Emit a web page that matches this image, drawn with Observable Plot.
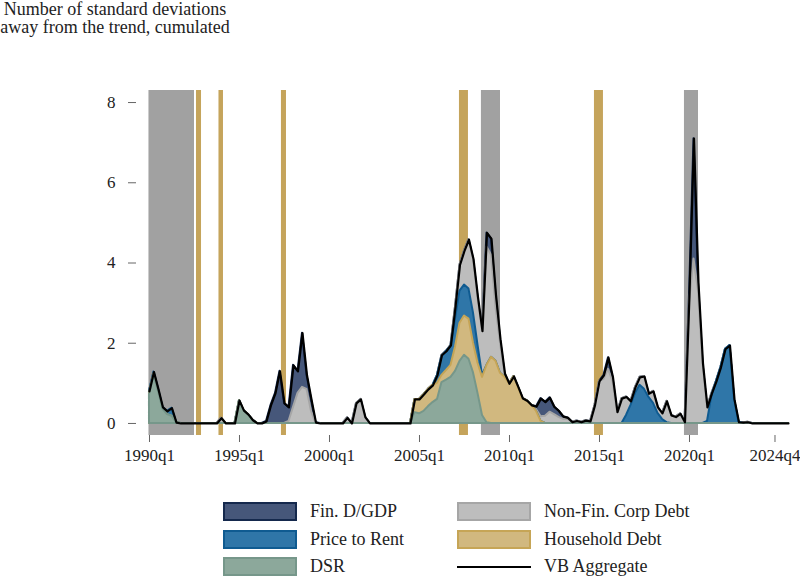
<!DOCTYPE html>
<html>
<head>
<meta charset="utf-8">
<script src="https://cdn.jsdelivr.net/npm/d3@7"></script>
<script src="https://cdn.jsdelivr.net/npm/@observablehq/plot@0.6"></script>
<style>
  html, body { margin: 0; padding: 0; background: #fff; }
  body { width: 800px; height: 586px; position: relative; overflow: hidden; font-family: "Liberation Serif", "Times New Roman", Times, "DejaVu Serif", "Noto Serif", FreeSerif, serif; color: #222; }
  #title { position: absolute; left: 0; top: 0; width: 230px; text-align: center; font-size: 18px; line-height: 18px; }
  #chart { position: absolute; left: 0; top: 40px; }
  .sw { position: absolute; box-sizing: border-box; width: 74px; height: 19px; border: 2px solid; }
  .ln { position: absolute; height: 0; width: 74px; border-top: 2px solid #000; }
  .lab { position: absolute; font-size: 18px; line-height: 19px; white-space: nowrap; }
</style>
</head>
<body>
<div id="title">Number of standard deviations<br>away from the trend, cumulated</div>
<div id="chart"></div>
<div id="legend"></div>
<script>
// Quarterly series, 1990q1 .. 2025q3 (one row = one year, four quarters)
const startQuarter = "1990q1";

const dsr = [
  0.72,1.20,0.80,0.35, 0.22,0.18,0.02,0,  0,0,0,0,  0,0,0,0,          // 1990-1993
  0,0,0,0,  0.57,0.32,0.22,0.08,  0,0,0,0,  0,0,0,0,                  // 1994-1997
  0,0,0,0,  0,0,0,0,  0,0,0,0,  0,0,0,0,                              // 1998-2001
  0,0,0,0,  0,0,0,0,  0,0,0,0.27,  0.24,0.30,0.42,0.52,               // 2002-2005
  0.60,1.02,1.08,1.15,  1.30,1.55,1.70,1.60,  1.26,0.75,0.20,0.02,  0,0,0,0, // 2006-2009
  0,0,0,0,  0,0,0,0,  0,0,0,0,  0,0,0,0,                              // 2010-2013
  0,0,0,0,  0,0,0,0,  0,0,0,0,  0,0,0,0,                              // 2014-2017
  0,0,0,0,  0,0,0,0,  0,0,0,0,  0,0,0,0,                              // 2018-2021
  0,0,0,0,  0,0,0,0,  0,0,0,0,  0,0,0                                 // 2022-2025q3
];

const householdDebt = [
  0.03,0.03,0,0,  0,0,0,0,  0,0,0,0,  0,0,0,0,                        // 1990-1993
  0,0,0,0,  0,0,0,0,  0,0,0,0,  0,0,0,0,                              // 1994-1997
  0,0,0,0,  0,0,0,0,  0,0,0,0,  0,0,0,0,                              // 1998-2001
  0,0,0,0,  0,0,0,0,  0,0,0,0.33,  0.36,0.42,0.43,0.43,               // 2002-2005
  0.40,0.18,0.24,0.30,  0.60,0.95,0.98,1.00,  0.74,0.75,0.95,1.43,  1.65,1.55,1.25,1.15, // 2006-2009
  0.99,1.17,0.90,0.62,  0.56,0.45,0.30,0.05,  0,0,0,0,  0,0,0,0,      // 2010-2013
  0,0,0,0,  0,0,0,0,  0,0,0,0,  0,0,0,0,                              // 2014-2017
  0,0,0,0,  0,0,0,0,  0,0,0,0,  0,0,0,0,                              // 2018-2021
  0,0,0,0,  0,0,0,0,  0,0,0,0,  0,0,0                                 // 2022-2025q3
];

const priceToRent = [
  0.05,0.05,0.05,0.05,  0.08,0.20,0,0,  0,0,0,0,  0,0,0,0,            // 1990-1993
  0,0,0,0,  0,0,0,0,  0,0,0,0,  0,0,0,0,                              // 1994-1997
  0,0,0,0,  0,0,0,0,  0,0,0,0,  0,0,0,0,                              // 1998-2001
  0,0,0,0,  0,0,0,0,  0,0,0,0,  0,0,0,0,                              // 2002-2005
  0.20,0.47,0.48,0.47,  0.70,0.80,0.77,0.75,  0.75,0.45,0.05,0,  0,0,0,0, // 2006-2009
  0,0,0,0,  0,0,0,0,  0,0,0,0,  0,0,0,0,                              // 2010-2013
  0,0,0,0,  0,0,0,0,  0,0,0.20,0.45,  0.75,0.95,0.85,0.65,            // 2014-2017
  0.50,0.25,0.10,0.02,  0,0,0,0,  0,0,0,0,  0.05,0.70,1.05,1.40,      // 2018-2021
  1.85,1.94,0.60,0.03,  0,0,0,0,  0,0,0,0,  0,0,0                     // 2022-2025q3
];

const nonFinCorpDebt = [
  0,0,0,0,  0,0,0,0,  0,0,0,0,  0,0,0,0,                              // 1990-1993
  0.13,0,0,0,  0,0,0,0,  0,0,0,0,  0,0,0,0.05,                        // 1994-1997
  0.40,0.75,0.90,0.85,  0.30,0,0,0,  0,0,0,0,  0.14,0,0.50,0.60,      // 1998-2001
  0.15,0,0,0,  0,0,0,0,  0,0,0,0,  0,0,0,0,                           // 2002-2005
  0,0.03,0,0.03,  0.30,0.65,0.85,1.23,  1.35,1.20,1.10,2.95,  2.55,1.35,0.75,0.09, // 2006-2009
  0,0,0,0,  0,0,0.05,0.12,  0.18,0.28,0.22,0.15,  0.10,0.10,0.03,0.06, // 2010-2013
  0.03,0.07,0.05,0.45,  1.05,1.10,1.35,1.05,  0.28,0.62,0.46,0.10,  0.15,0.20,0.32,0.09, // 2014-2017
  0.30,0.15,0.15,0.53,  0.20,0.16,0.24,0.03,  3.00,4.10,3.30,1.50,  0.35,0.05,0,0, // 2018-2021
  0,0,0,0,  0.02,0.03,0,0,  0,0,0,0,  0,0,0                           // 2022-2025q3
];

const finDebtGdp = [
  0,0,0,0,  0,0,0,0,  0,0,0,0,  0,0,0,0,                              // 1990-1993
  0,0,0,0,  0,0,0,0,  0,0,0.05,0.45,  0.75,1.30,0.50,0.35,            // 1994-1997
  1.05,0.55,1.35,0.35,  0.30,0.02,0,0,  0,0,0,0,  0,0,0,0,            // 1998-2001
  0,0,0,0,  0,0,0,0,  0,0,0,0,  0,0,0,0,                              // 2002-2005
  0,0,0,0,  0,0,0,0,  0,0,0,0.35,  0.40,0.30,0.10,0,                  // 2006-2009
  0,0,0,0,  0,0,0.07,0.45,  0.35,0.36,0.19,0.16,  0.07,0.04,0,0,      // 2010-2013
  0,0,0,0,  0,0.10,0.29,0.10,  0,0,0,0,  0,0,0,0,                     // 2014-2017
  0,0,0,0,  0,0,0,0,  0.20,3.00,0.20,0,  0,0,0,0,                     // 2018-2021
  0,0,0,0,  0,0,0,0,  0,0,0,0,  0,0,0                                 // 2022-2025q3
];

// Shaded episodes (decimal years)
const greyBandStart = [1989.97, 2008.44, 2019.72];
const greyBandEnd   = [1992.50, 2009.50, 2020.50];
const goldBandStart = [1992.61, 1993.86, 1997.33, 2007.22, 2014.72];
const goldBandEnd   = [1992.89, 1994.11, 1997.61, 2007.72, 2015.22];

const xTickLabels = ["1990q1","1995q1","2000q1","2005q1","2010q1","2015q1","2020q1","2024q4"];
const yTicks = [0, 2, 4, 6, 8];

const seriesNames = ["Fin. D/GDP", "Price to Rent", "DSR", "Non-Fin. Corp Debt", "Household Debt", "VB Aggregate"];

// ---- helpers ----
function quarterToYear(s) { const [y, q] = s.split("q"); return +y + (+q - 1) / 4; }
const y0 = quarterToYear(startQuarter);

const rows = dsr.map((v, i) => {
  const c1 = v;
  const c2 = c1 + householdDebt[i];
  const c3 = c2 + priceToRent[i];
  const c4 = c3 + nonFinCorpDebt[i];
  const c5 = c4 + finDebtGdp[i];
  return {x: y0 + i / 4, c1, c2, c3, c4, c5};
});

const bands = [
  ...greyBandStart.map((s, i) => ({start: s, end: greyBandEnd[i], kind: "grey"})),
  ...goldBandStart.map((s, i) => ({start: s, end: goldBandEnd[i], kind: "gold"}))
];

const col = {
  fin:   {fill: "#46577a", stroke: "#15294d"},
  price: {fill: "#2f76a8", stroke: "#0f5b91"},
  dsr:   {fill: "#8ca89b", stroke: "#76978a"},
  nonfin:{fill: "#bdbdbd", stroke: "#a6a6a6"},
  hh:    {fill: "#d1b87f", stroke: "#c6a556"},
  greyBand: "#a1a1a1",
  goldBand: "#c5a45b"
};

const tickYears = xTickLabels.map(quarterToYear);
const serifStack = "'Liberation Serif', 'Times New Roman', Times, 'DejaVu Serif', 'Noto Serif', FreeSerif, serif";

const areaOpts = (y, c) => ({x: "x", y, fill: c.fill, stroke: c.stroke, strokeWidth: 2, strokeLinejoin: "round", curve: "linear"});

const chart = Plot.plot({
  width: 800,
  height: 435,
  marginTop: 50,
  marginBottom: 40,
  marginLeft: 136,
  marginRight: 0,
  style: {fontFamily: serifStack, fontSize: "17px", background: "white", color: "#222"},
  x: {domain: [1989.278, 2026.167]},
  y: {domain: [-0.3, 8.3]},
  marks: [
    Plot.rect(bands, {x1: "start", x2: "end", fill: d => d.kind === "grey" ? col.greyBand : col.goldBand}),
    Plot.areaY(rows, areaOpts("c5", col.fin)),
    Plot.areaY(rows, areaOpts("c4", col.nonfin)),
    Plot.areaY(rows, areaOpts("c3", col.price)),
    Plot.areaY(rows, areaOpts("c2", col.hh)),
    Plot.areaY(rows, areaOpts("c1", col.dsr)),
    Plot.lineY(rows, {x: "x", y: "c5", stroke: "#000", strokeWidth: 2.2, curve: "linear"}),
    Plot.axisY({ticks: yTicks, tickSize: 8, tickPadding: 13, stroke: "#666", fill: "#222", label: null, line: true}),
    Plot.axisX({ticks: tickYears, tickFormat: d => xTickLabels[tickYears.indexOf(d)], tickSize: 7, tickPadding: 6, stroke: "#666", fill: "#222", label: null, line: true})
  ]
});
chart.querySelectorAll("text").forEach(t => t.style.fontFamily = serifStack);
document.getElementById("chart").appendChild(chart);

// ---- legend ----
const legend = document.getElementById("legend");
const legendSpec = [
  {name: seriesNames[0], c: col.fin,    left: 223, top: 502},
  {name: seriesNames[1], c: col.price,  left: 223, top: 530},
  {name: seriesNames[2], c: col.dsr,    left: 223, top: 557},
  {name: seriesNames[3], c: col.nonfin, left: 457, top: 502},
  {name: seriesNames[4], c: col.hh,     left: 457, top: 530},
  {name: seriesNames[5], c: null,       left: 457, top: 557}
];
for (const it of legendSpec) {
  if (it.c) {
    const sw = document.createElement("div");
    sw.className = "sw";
    sw.style.left = it.left + "px"; sw.style.top = it.top + "px";
    sw.style.background = it.c.fill; sw.style.borderColor = it.c.stroke;
    legend.appendChild(sw);
  } else {
    const ln = document.createElement("div");
    ln.className = "ln";
    ln.style.left = it.left + "px"; ln.style.top = (it.top + 9) + "px";
    legend.appendChild(ln);
  }
  const lab = document.createElement("div");
  lab.className = "lab";
  lab.textContent = it.name;
  lab.style.left = (it.left + 87) + "px"; lab.style.top = it.top + "px";
  legend.appendChild(lab);
}
</script>
</body>
</html>
